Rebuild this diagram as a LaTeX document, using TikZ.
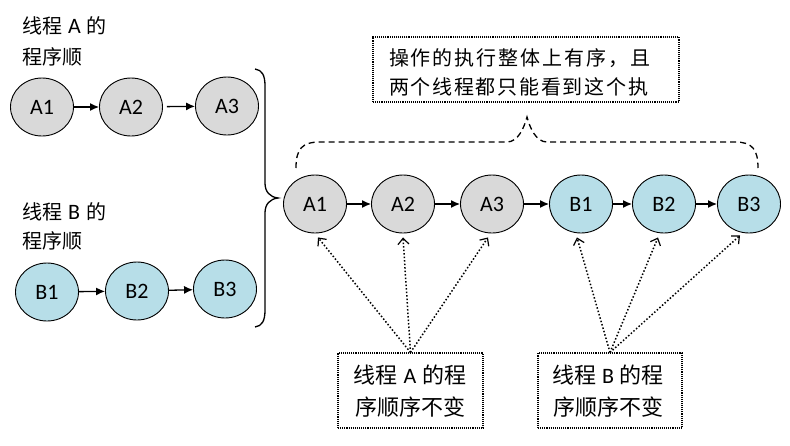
\documentclass[tikz,border=0pt]{standalone}
\usepackage{fontspec}
\setmainfont{Carlito}
\newfontfamily\cjk{Noto Sans CJK SC}
\usetikzlibrary{arrows.meta,shapes.geometric,calc}
\definecolor{nodegray}{HTML}{D9D9D9}
\definecolor{nodeblue}{HTML}{B7DEE8}
\newcommand{\latin}[1]{\hspace{6pt}{\fontsize{22}{26}\selectfont #1}\hspace{6pt}}
\begin{document}
\begin{tikzpicture}[x=1pt,y=-1pt,
  opnode/.style={ellipse, draw, line width=0.9pt, minimum width=63pt, minimum height=58pt, inner sep=0pt, font=\fontsize{22}{26}\selectfont},
  ga/.style={opnode, fill=nodegray},
  bl/.style={opnode, fill=nodeblue},
  seq/.style={-{Latex[length=9pt,width=8pt]}, line width=1.3pt},
  obs/.style={dotted, line width=1.5pt, -{Straight Barb[length=6pt,width=11pt,line width=1.2pt]}},
  dbox/.style={draw, densely dotted, line width=1.1pt, inner sep=0pt},
  lbl/.style={anchor=west, inner sep=0pt, font=\fontsize{20}{24}\selectfont},
  btxt/.style={inner sep=0pt, font=\fontsize{22}{26}\selectfont},
  ttxt/.style={inner sep=0pt, font=\fontsize{20}{24}\selectfont}
]
\useasboundingbox[fill=white] (0,0) rectangle (790,445);

% left labels
\node[lbl] (la1) at (22,26) {{\cjk 线程}\latin{A}{\cjk 的}};
\node[lbl] (la2) at (22,57) {\cjk 程序顺};
\node[lbl] (lb1) at (22,212) {{\cjk 线程}\latin{B}{\cjk 的}};
\node[lbl] (lb2) at (22,241) {\cjk 程序顺};

% left thread A
\node[ga] (LA1) at (42,107) {A1};
\node[ga] (LA2) at (131,107) {A2};
\node[ga] (LA3) at (227,106) {A3};
\draw[seq] (LA1) -- (LA2);
\draw[seq, shorten <=4pt] (LA2) -- (LA3);

% left thread B
\node[bl] (LB1) at (47,292) {B1};
\node[bl] (LB2) at (137,291) {B2};
\node[bl] (LB3) at (225,289) {B3};
\draw[seq] (LB1) -- (LB2);
\draw[seq] (LB2) -- (LB3);

% big brace
\draw[line width=1.3pt] (255,69) .. controls (262,70) and (265,75) .. (265,86) -- (265,183)
  .. controls (265,192) and (270,197) .. (278,198)
  .. controls (270,199) and (265,204) .. (265,213) -- (265,310)
  .. controls (265,321) and (262,326) .. (255,327);

% main sequence
\node[ga] (A1) at (315,204) {A1};
\node[ga] (A2) at (403,204) {A2};
\node[ga] (A3) at (492,204) {A3};
\node[bl] (B1) at (581,204) {B1};
\node[bl] (B2) at (664,204) {B2};
\node[bl] (B3) at (749,204) {B3};
\draw[seq] (A1) -- (A2);
\draw[seq] (A2) -- (A3);
\draw[seq] (A3) -- (B1);
\draw[seq] (B1) -- (B2);
\draw[seq] (B2) -- (B3);

% dashed brace
\draw[dash pattern=on 6pt off 4pt, line width=1.3pt] (296,168) .. controls (296,149) and (302,142) .. (320,142) -- (507,142)
  .. controls (518,142) and (524,128) .. (527,117)
  .. controls (530,128) and (536,142) .. (547,142) -- (735,142)
  .. controls (752,142) and (758,149) .. (758,168);

% top box
\node[dbox, minimum width=306pt, minimum height=65pt] (top) at (526,69.5) {};
\node[ttxt] (t1) at (519.5,58) {\cjk\makebox[261pt][s]{操\hfill 作\hfill 的\hfill 执\hfill 行\hfill 整\hfill 体\hfill 上\hfill 有\hfill 序\hfill ，\hfill 且}};
\node[ttxt] (t2) at (518.5,87) {\cjk\makebox[259pt][s]{两\hfill 个\hfill 线\hfill 程\hfill 都\hfill 只\hfill 能\hfill 看\hfill 到\hfill 这\hfill 个\hfill 执}};

% bottom boxes
\node[dbox, minimum width=145pt, minimum height=75pt] (ba) at (410.5,390.5) {};
\node[btxt] (ba1) at (410,375) {{\cjk 线程}\latin{A}{\cjk 的程}};
\node[btxt] (ba2) at (410,407) {\cjk 序顺序不变};
\node[dbox, minimum width=144pt, minimum height=75pt] (bb) at (610,390.5) {};
\node[btxt] (bb1) at (608,375) {{\cjk 线程}\latin{B}{\cjk 的程}};
\node[btxt] (bb2) at (608,407) {\cjk 序顺序不变};

% observation arrows
\draw[obs] (ba.north) -- ($(A1.south)+(3,4)$);
\draw[obs] (ba.north) -- ($(A2.south)+(0,4)$);
\draw[obs] (ba.north) -- ($(A3.south)+(-4,4)$);
\draw[obs] (bb.north) -- ($(B1.south)+(-4,4)$);
\draw[obs] (bb.north) -- ($(B2.south)+(-6,4)$);
\draw[obs] (bb.north) -- ($(B3.south)+(-9,2)$);
\end{tikzpicture}
\end{document}
